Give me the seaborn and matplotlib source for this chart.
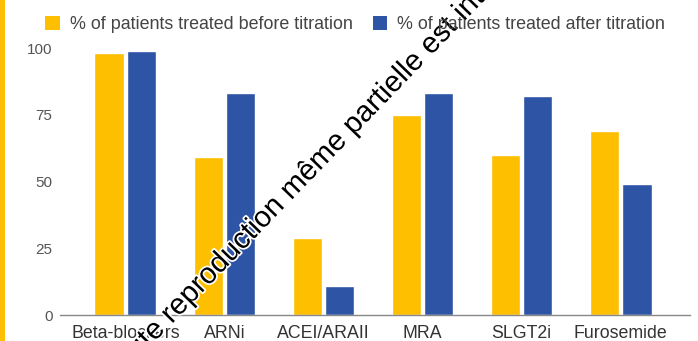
import matplotlib
matplotlib.use("Agg")
import matplotlib.pyplot as plt
import matplotlib.patheffects as pe
from matplotlib.patches import Patch, Rectangle
import seaborn as sns
import pandas as pd

# Data
treatments = ["Beta-blockers", "ARNi", "ACEI/ARAII", "MRA", "SLGT2i", "Furosemide"]
before_titration = [98, 59, 29, 75, 60, 69]
after_titration = [99, 83, 11, 83, 82, 49]
series_names = ["% of patients treated before titration",
                "% of patients treated after titration"]
y_ticks = [0, 25, 50, 75, 100]

colors = ["#FDBF00", "#2D54A5"]

df = pd.DataFrame({
    "treatment": treatments * 2,
    "value": before_titration + after_titration,
    "series": [series_names[0]] * len(treatments) + [series_names[1]] * len(treatments),
})

sns.set_theme(style="white")
plt.rcParams["font.family"] = ["Liberation Sans", "DejaVu Sans"]

fig = plt.figure(figsize=(6.98, 3.41), dpi=100)
ax = fig.add_axes([0.086, 0.0762, 0.9025, 0.783])

sns.barplot(data=df, x="treatment", y="value", hue="series", order=treatments,
            hue_order=series_names, palette=colors, width=0.65, gap=0.08,
            saturation=1, ax=ax, legend=False)

ax.set_xlim(-0.66, 5.7)
ax.set_ylim(0, 100)
ax.set_yticks(y_ticks)
ax.set_yticklabels([str(t) for t in y_ticks], fontsize=11, color="#555555")
ax.tick_params(axis="x", labelsize=12.8, colors="#333333", length=0, pad=7.5)
ax.tick_params(axis="y", length=0, pad=5.5)
ax.set_xlabel("")
ax.set_ylabel("")
for side in ["top", "right", "left"]:
    ax.spines[side].set_visible(False)
ax.spines["bottom"].set_color("#888888")
ax.spines["bottom"].set_linewidth(1.0)
ax.grid(False)

# Legend across the top
handles = [Patch(facecolor=c, edgecolor="none") for c in colors]
fig.legend(handles, series_names, loc="upper left", bbox_to_anchor=(0.042, 1.0),
           ncol=2, frameon=False, fontsize=12.9, handlelength=0.8, handleheight=0.8,
           handletextpad=0.55, columnspacing=1.15, labelcolor="#444444")

# Yellow stripe along the left edge
fig.patches.append(Rectangle((0, 0), 0.007, 1, transform=fig.transFigure,
                             facecolor="#FDBF00", edgecolor="none"))

# Diagonal watermark
fig.text(116 / 698, 1 - 382 / 341, "Toute reproduction même partielle est interdite",
         rotation=46, rotation_mode="anchor", ha="left", va="baseline",
         fontsize=21.2, color="black",
         path_effects=[pe.withStroke(linewidth=2.5, foreground="white")])

fig.savefig("out.png", dpi=100)
